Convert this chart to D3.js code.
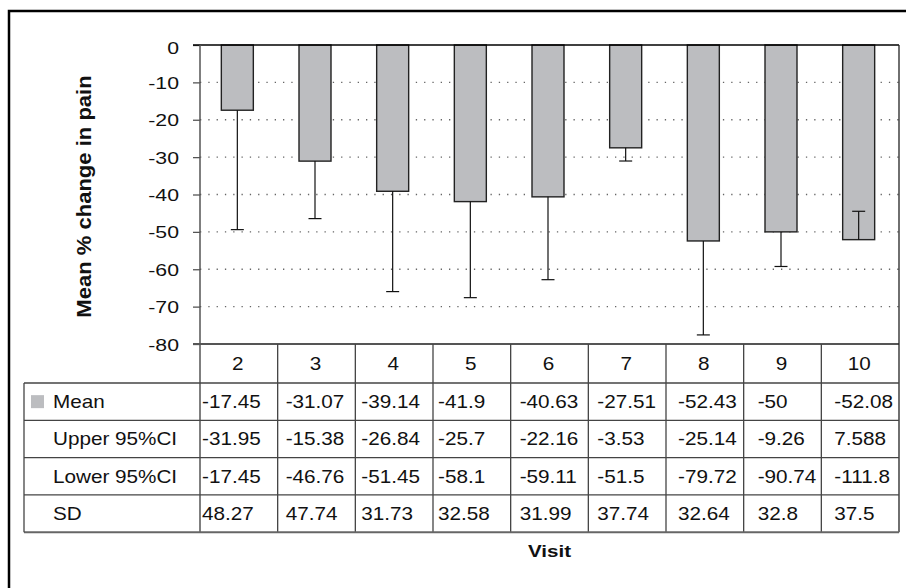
<!DOCTYPE html>
<html>
<head>
<meta charset="utf-8">
<script src="https://cdn.jsdelivr.net/npm/d3@7"></script>
<style>
  body { margin: 0; background: #fff; }
  svg { display: block; font-family: "Liberation Sans", Arial, Helvetica, sans-serif; }
</style>
</head>
<body>
<svg id="chart" width="906" height="588"></svg>
<script>
var visits = ["2", "3", "4", "5", "6", "7", "8", "9", "10"];
var meanVals = [-17.45, -31.07, -39.14, -41.9, -40.63, -27.51, -52.43, -50, -52.08];
var upperCI = [-31.95, -15.38, -26.84, -25.7, -22.16, -3.53, -25.14, -9.26, 7.588];
var lowerCI = [-17.45, -46.76, -51.45, -58.1, -59.11, -51.5, -79.72, -90.74, -111.8];
var sdVals = [48.27, 47.74, 31.73, 32.58, 31.99, 37.74, 32.64, 32.8, 37.5];
var yTicks = [0, -10, -20, -30, -40, -50, -60, -70, -80];

var rowNames = ["Mean", "Upper 95%CI", "Lower 95%CI", "SD"];
var rowData = [meanVals, upperCI, lowerCI, sdVals];

var svg = d3.select("#chart");

// plot area (note: "top" is taken by window.top, so prefix everything)
var pLeft = 200, pRight = 899, pTop = 45, pBottom = 344;
var tableLeft = 24;
var catRowBottom = 383;
var rowH = 37.3;
var tableBottom = catRowBottom + rowH * rowNames.length;

var x = d3.scaleBand().domain(visits).range([pLeft, pRight]);
var y = d3.scaleLinear().domain([-80, 0]).range([pBottom, pTop]);

var barFill = "#bcbdc0";
var lineCol = "#444";

// helper for the slightly wide lettering of the original
function wideText(g, tx, ty, str, size, sx, anchor, weight) {
  return g.append("text")
    .attr("transform", "translate(" + tx + "," + ty + ") scale(" + sx + ",1)")
    .attr("font-size", size)
    .attr("font-weight", weight || "normal")
    .attr("text-anchor", anchor || "start")
    .attr("fill", "#111")
    .text(str);
}

// outer frame (only top and left fall inside the picture)
svg.append("path")
  .attr("d", "M9,600 L9,11 L920,11")
  .attr("fill", "none")
  .attr("stroke", "#000")
  .attr("stroke-width", 2.5);

// dotted gridlines
svg.append("g")
  .selectAll("line")
  .data(yTicks.filter(function(t) { return t != 0 && t != -80; }))
  .enter().append("line")
  .attr("x1", pLeft).attr("x2", pRight)
  .attr("y1", function(d) { return y(d); })
  .attr("y2", function(d) { return y(d); })
  .attr("stroke", "#666")
  .attr("stroke-width", 1.3)
  .attr("stroke-dasharray", "1.3,7");

// bars hang down from zero
var barW = 32;
svg.append("g")
  .selectAll("rect")
  .data(meanVals)
  .enter().append("rect")
  .attr("x", function(d, i) { return x(visits[i]) + x.bandwidth() / 2 - barW / 2 - 1.5; })
  .attr("y", y(0))
  .attr("width", barW)
  .attr("height", function(d) { return y(d) - y(0); })
  .attr("fill", barFill)
  .attr("stroke", "#222")
  .attr("stroke-width", 1.4);

// error bars: from the mean by the "Upper 95%CI" amount
var errG = svg.append("g").attr("stroke", "#111").attr("stroke-width", 1.2);
meanVals.forEach(function(m, i) {
  var cx = x(visits[i]) + x.bandwidth() / 2 - 1.5;
  var yEnd = y(m + upperCI[i]);
  errG.append("line")
    .attr("x1", cx).attr("x2", cx)
    .attr("y1", y(m)).attr("y2", yEnd);
  errG.append("line")
    .attr("x1", cx - 6.5).attr("x2", cx + 6.5)
    .attr("y1", yEnd).attr("y2", yEnd);
});

// y axis (plain hyphen minus, as in the original)
var yAxis = d3.axisLeft(y).tickValues(yTicks).tickSize(7);
var axG = svg.append("g")
  .attr("transform", "translate(" + pLeft + ",0)")
  .call(yAxis);
axG.select(".domain").remove();
axG.selectAll(".tick line").attr("stroke", "#555").attr("stroke-width", 1.3);
axG.selectAll(".tick text").remove();
axG.selectAll(".tick").each(function(d) {
  wideText(d3.select(this), -21, d == 0 ? 8 : 6, String(d), 17, 1.25, "end");
});

// plot frame lines
svg.append("line")
  .attr("x1", pLeft - 7).attr("x2", pRight).attr("y1", y(0)).attr("y2", y(0))
  .attr("stroke", "#000").attr("stroke-width", 1.5);
svg.append("line")
  .attr("x1", pLeft - 7).attr("x2", pRight).attr("y1", y(-80)).attr("y2", y(-80))
  .attr("stroke", "#555").attr("stroke-width", 2);
svg.append("line")
  .attr("x1", pLeft).attr("x2", pLeft).attr("y1", y(0)).attr("y2", tableBottom)
  .attr("stroke", "#555").attr("stroke-width", 1.5);
svg.append("line")
  .attr("x1", pRight).attr("x2", pRight).attr("y1", y(0)).attr("y2", tableBottom)
  .attr("stroke", "#222").attr("stroke-width", 1.3);

// y title
svg.append("text")
  .attr("transform", "translate(91,196.5) rotate(-90) scale(1.05,1)")
  .attr("font-size", 21)
  .attr("font-weight", "bold")
  .attr("text-anchor", "middle")
  .attr("fill", "#111")
  .text("Mean % change in pain");

// data table
var tbl = svg.append("g");
// vertical column separators
tbl.selectAll("line.col")
  .data(visits.slice(1))
  .enter().append("line")
  .attr("class", "col")
  .attr("x1", function(d) { return x(d); })
  .attr("x2", function(d) { return x(d); })
  .attr("y1", pBottom).attr("y2", tableBottom)
  .attr("stroke", lineCol).attr("stroke-width", 1.3);
// horizontal row lines
tbl.selectAll("line.row")
  .data(d3.range(rowNames.length + 1))
  .enter().append("line")
  .attr("class", "row")
  .attr("x1", tableLeft).attr("x2", pRight)
  .attr("y1", function(d) { return catRowBottom + d * rowH; })
  .attr("y2", function(d) { return catRowBottom + d * rowH; })
  .attr("stroke", function(d) { return d == rowNames.length ? "#666" : lineCol; })
  .attr("stroke-width", function(d) { return d == rowNames.length ? 2 : 1.3; });
tbl.append("line")
  .attr("x1", tableLeft).attr("x2", tableLeft)
  .attr("y1", catRowBottom).attr("y2", tableBottom)
  .attr("stroke", lineCol).attr("stroke-width", 1.3);

// category labels
visits.forEach(function(v) {
  wideText(tbl, x(v) + x.bandwidth() / 2 - 1, (pBottom + catRowBottom) / 2 + 6.5, v, 18, 1.15, "middle");
});

// row labels and legend key
tbl.append("rect")
  .attr("x", 31).attr("y", catRowBottom + rowH / 2 - 6.5)
  .attr("width", 13).attr("height", 13)
  .attr("fill", barFill);
rowNames.forEach(function(name, r) {
  var cy = catRowBottom + rowH * r + rowH / 2 + 6.5;
  wideText(tbl, 53, cy, name, 18, 1.15, "start");
});

// cell values (Excel left pads each column a little differently)
var cellPad = [2, 8, 6, 5, 9, 9, 12, 14, 13];
rowData.forEach(function(vals, r) {
  var cy = catRowBottom + rowH * r + rowH / 2 + 6.5;
  vals.forEach(function(v, i) {
    wideText(tbl, x(visits[i]) + cellPad[i], cy, String(v), 18, 1.15, "start");
  });
});

// x title
wideText(svg, (pLeft + pRight) / 2, 557, "Visit", 17.3, 1.19, "middle", "bold");
</script>
</body>
</html>
